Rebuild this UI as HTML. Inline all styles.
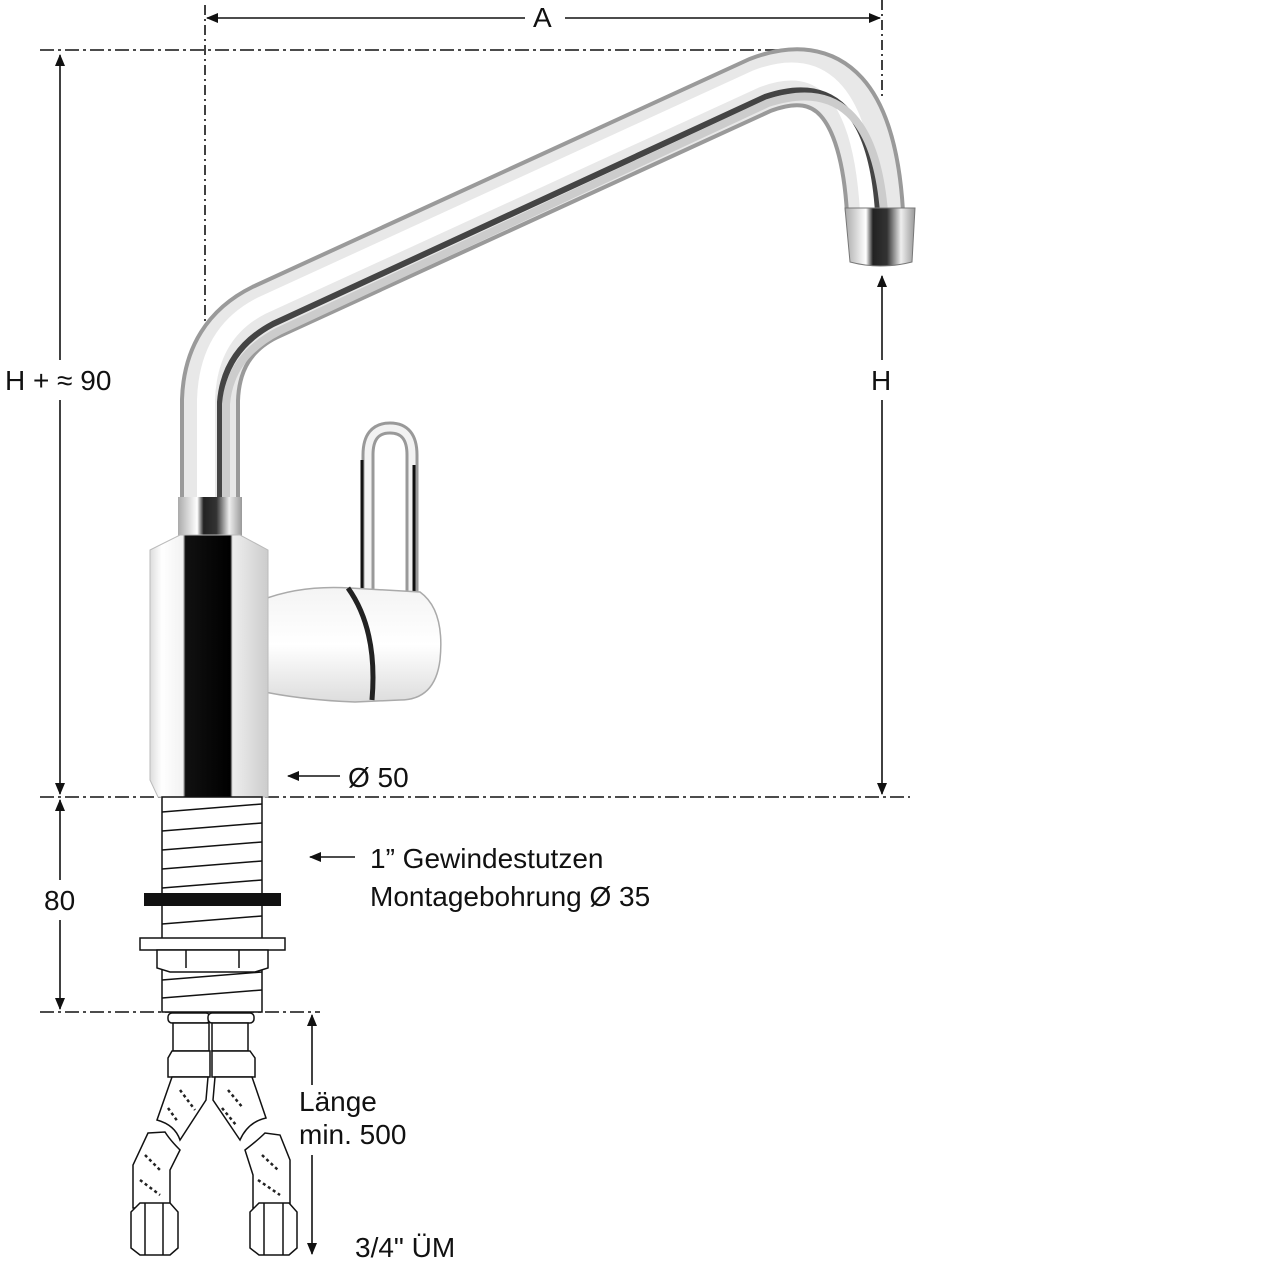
<!DOCTYPE html>
<html><head><meta charset="utf-8"><style>
html,body{margin:0;padding:0;background:#fff;}
svg{display:block}
text{font-family:"Liberation Sans",Arial,sans-serif;fill:#111;font-size:28px}
</style></head><body>
<svg width="1280" height="1280" viewBox="0 0 1280 1280" xmlns="http://www.w3.org/2000/svg">
<defs>
<marker id="ar" markerWidth="12" markerHeight="10" refX="11" refY="5" orient="auto" markerUnits="userSpaceOnUse">
<path d="M0,0 L12,5 L0,10 z" fill="#111"/></marker>
<linearGradient id="body" x1="0" x2="1">
<stop offset="0" stop-color="#ddd"/><stop offset="0.1" stop-color="#fff"/><stop offset="0.28" stop-color="#f2f2f2"/><stop offset="0.3" stop-color="#111"/><stop offset="0.68" stop-color="#000"/><stop offset="0.7" stop-color="#eee"/><stop offset="1" stop-color="#ccc"/></linearGradient>
<linearGradient id="coll" x1="0" x2="1">
<stop offset="0" stop-color="#aaa"/><stop offset="0.3" stop-color="#fff"/><stop offset="0.4" stop-color="#222"/><stop offset="0.6" stop-color="#333"/><stop offset="0.8" stop-color="#eee"/><stop offset="1" stop-color="#999"/></linearGradient>
<linearGradient id="lev" x1="0" y1="0" x2="0" y2="1">
<stop offset="0" stop-color="#f4f4f4"/><stop offset="0.5" stop-color="#fff"/><stop offset="1" stop-color="#ddd"/></linearGradient>
</defs>

<g stroke="#111" stroke-width="1.6" fill="none">
<line x1="525" y1="18" x2="207" y2="18" marker-end="url(#ar)"/>
<line x1="565" y1="18" x2="880" y2="18" marker-end="url(#ar)"/>
<line x1="205" y1="5" x2="205" y2="330" stroke-dasharray="10,4,2,4"/>
<line x1="882" y1="0" x2="882" y2="100" stroke-dasharray="10,4,2,4"/>
<line x1="40" y1="50" x2="805" y2="50" stroke-dasharray="14,4,3,4"/>
<line x1="40" y1="797" x2="910" y2="797" stroke-dasharray="14,4,3,4"/>
<line x1="40" y1="1012" x2="320" y2="1012" stroke-dasharray="14,4,3,4"/>
<line x1="60" y1="360" x2="60" y2="55" marker-end="url(#ar)"/>
<line x1="60" y1="400" x2="60" y2="794" marker-end="url(#ar)"/>
<line x1="60" y1="880" x2="60" y2="800" marker-end="url(#ar)"/>
<line x1="60" y1="920" x2="60" y2="1009" marker-end="url(#ar)"/>
<line x1="882" y1="360" x2="882" y2="276" marker-end="url(#ar)"/>
<line x1="882" y1="400" x2="882" y2="794" marker-end="url(#ar)"/>
<line x1="312" y1="1085" x2="312" y2="1015" marker-end="url(#ar)"/>
<line x1="312" y1="1155" x2="312" y2="1254" marker-end="url(#ar)"/>
<line x1="340" y1="776" x2="288" y2="776" marker-end="url(#ar)"/>
<line x1="355" y1="857" x2="310" y2="857" marker-end="url(#ar)"/>
</g>

<g fill="none" stroke-linecap="butt">
<path d="M210,505 L210,400 Q212,338 265,312 L760,85 Q865,45 875,212" stroke="#9a9a9a" stroke-width="60"/>
<path d="M210,505 L210,400 Q212,338 265,312 L760,85 Q865,45 875,212" stroke="#e8e8e8" stroke-width="52"/>
<path d="M206,505 L206,400 Q208,333 261,306 L756,79 Q859,39 869,212" stroke="#fff" stroke-width="18"/>
<path d="M220,505 L220,402 Q224,350 273,324 L765,97 Q868,62 878,212" stroke="#444" stroke-width="6"/>
<path d="M226,505 L226,404 Q230,356 279,331 L768,103 Q872,69 884,212" stroke="#ccc" stroke-width="8"/>
</g>
<path d="M845,208 L915,208 L912,262 Q880,270 850,262 Z" fill="url(#coll)" stroke="#777" stroke-width="1"/>

<path d="M368,600 L368,455 Q368,428 390,428 Q412,428 412,455 L412,610" fill="none" stroke="#999" stroke-width="13"/>
<path d="M368,600 L368,455 Q368,428 390,428 Q412,428 412,455 L412,610" fill="none" stroke="#f2f2f2" stroke-width="7"/>
<line x1="362" y1="460" x2="362" y2="590" stroke="#111" stroke-width="3"/>
<line x1="414" y1="465" x2="414" y2="600" stroke="#111" stroke-width="3"/>

<path d="M262,600 Q300,585 350,588 L420,592 Q445,610 440,660 Q435,700 400,700 L355,702 Q300,700 255,690 Z" fill="url(#lev)" stroke="#aaa" stroke-width="1.5"/>
<path d="M348,588 Q378,630 372,700" fill="none" stroke="#222" stroke-width="5"/>

<rect x="178" y="497" width="64" height="42" fill="url(#coll)"/>
<path d="M150,550 L180,535 L240,535 L268,550 L268,797 L158,797 L150,780 Z" fill="url(#body)" stroke="#bbb" stroke-width="1"/>

<g stroke="#111" stroke-width="1.5" fill="#fff">
<rect x="162" y="797" width="100" height="215"/>
<g fill="none">
<line x1="162" y1="812" x2="262" y2="804"/><line x1="162" y1="831" x2="262" y2="823"/>
<line x1="162" y1="850" x2="262" y2="842"/><line x1="162" y1="869" x2="262" y2="861"/>
<line x1="162" y1="888" x2="262" y2="880"/><line x1="162" y1="924" x2="262" y2="916"/>
<line x1="162" y1="980" x2="262" y2="972"/><line x1="162" y1="998" x2="262" y2="990"/>
</g>
<rect x="140" y="938" width="145" height="12"/>
<path d="M157,950 L268,950 L268,968 L255,972 L170,972 L157,968 Z"/>
<line x1="186" y1="950" x2="186" y2="968" /><line x1="239" y1="950" x2="239" y2="968"/>
</g>
<rect x="144" y="893" width="137" height="13" fill="#111"/>

<g stroke="#111" stroke-width="1.5" fill="#fff">
<rect x="168" y="1013" width="42" height="10" rx="4"/><rect x="208" y="1013" width="46" height="10" rx="4"/>
<rect x="173" y="1023" width="36" height="28"/><rect x="212" y="1023" width="36" height="28"/>
<path d="M172,1051 L210,1051 L210,1077 L168,1077 L168,1058 Z"/><path d="M212,1051 L250,1051 L255,1058 L255,1077 L212,1077 Z"/>
<path d="M172,1077 L208,1077 L206,1100 L180,1140 Q175,1125 157,1120 Z"/>
<path d="M215,1077 L252,1077 L266,1118 Q248,1122 240,1140 L213,1100 Z"/>
<path d="M148,1133 L165,1132 Q170,1140 180,1150 L170,1170 L170,1208 L133,1208 L133,1165 Z"/>
<path d="M245,1150 Q258,1140 265,1133 L280,1135 L290,1160 L290,1208 L253,1208 L253,1175 Z"/>
<path d="M131,1212 L140,1203 L170,1203 L178,1212 L178,1248 L170,1255 L140,1255 L131,1248 Z"/>
<line x1="145" y1="1203" x2="145" y2="1255"/><line x1="163" y1="1203" x2="163" y2="1255"/>
<path d="M250,1212 L259,1203 L289,1203 L297,1212 L297,1248 L289,1255 L259,1255 L250,1248 Z"/>
<line x1="264" y1="1203" x2="264" y2="1255"/><line x1="283" y1="1203" x2="283" y2="1255"/>
</g>
<g stroke="#222" stroke-width="2.5" stroke-dasharray="3,3">
<line x1="180" y1="1090" x2="195" y2="1110"/><line x1="168" y1="1108" x2="178" y2="1122"/>
<line x1="228" y1="1090" x2="243" y2="1108"/><line x1="222" y1="1108" x2="236" y2="1125"/>
<line x1="145" y1="1155" x2="160" y2="1170"/><line x1="140" y1="1180" x2="160" y2="1195"/>
<line x1="262" y1="1155" x2="278" y2="1170"/><line x1="258" y1="1180" x2="280" y2="1195"/>
</g>

<text x="533" y="27">A</text>
<text x="5" y="390">H + ≈ 90</text>
<text x="871" y="390">H</text>
<text x="348" y="787">Ø 50</text>
<text x="44" y="910">80</text>
<text x="370" y="868">1” Gewindestutzen</text>
<text x="370" y="906">Montagebohrung Ø 35</text>
<text x="299" y="1111">Länge</text>
<text x="299" y="1144">min. 500</text>
<text x="355" y="1257">3/4" ÜM</text>
</svg>
</body></html>
